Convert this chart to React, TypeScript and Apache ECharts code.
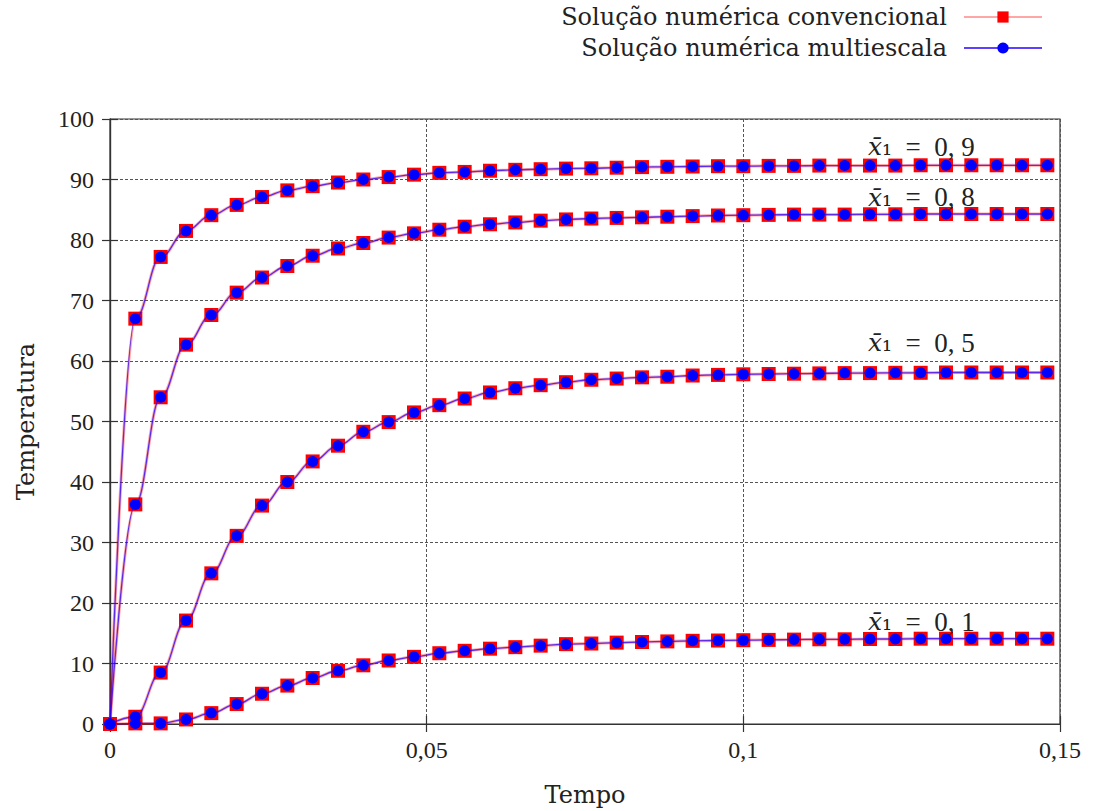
import React, { useEffect, useRef } from "react";
import * as echarts from "echarts";

// Instantes de tempo em que as soluções foram amostradas
const tempo = [
  0, 0.004, 0.008, 0.012, 0.016, 0.02, 0.024, 0.028, 0.032, 0.036,
  0.04, 0.044, 0.048, 0.052, 0.056, 0.06, 0.064, 0.068, 0.072, 0.076,
  0.08, 0.084, 0.088, 0.092, 0.096, 0.1, 0.104, 0.108, 0.112, 0.116,
  0.12, 0.124, 0.128, 0.132, 0.136, 0.14, 0.144, 0.148,
];

// Temperatura em cada posição x̄1 (as duas soluções coincidem nesta escala)
const tempX09 = [
  0, 67.0, 77.2, 81.5, 84.1, 85.8, 87.1, 88.2, 88.9, 89.5,
  90.0, 90.4, 90.8, 91.1, 91.25, 91.45, 91.6, 91.7, 91.8, 91.85,
  91.95, 92.05, 92.1, 92.15, 92.2, 92.2, 92.25, 92.25, 92.3, 92.3,
  92.3, 92.3, 92.35, 92.35, 92.35, 92.35, 92.35, 92.35,
];
const tempX08 = [
  0, 36.3, 54.0, 62.7, 67.6, 71.3, 73.8, 75.7, 77.4, 78.6,
  79.5, 80.4, 81.1, 81.7, 82.2, 82.6, 82.9, 83.2, 83.4, 83.55,
  83.65, 83.75, 83.85, 83.95, 84.05, 84.1, 84.15, 84.2, 84.2, 84.2,
  84.25, 84.25, 84.3, 84.3, 84.3, 84.3, 84.3, 84.3,
];
const tempX05 = [
  0, 1.2, 8.5, 17.1, 24.9, 31.1, 36.1, 40.0, 43.4, 46.0,
  48.3, 49.9, 51.5, 52.7, 53.8, 54.8, 55.5, 56.0, 56.5, 56.9,
  57.1, 57.3, 57.4, 57.6, 57.7, 57.8, 57.85, 57.9, 57.95, 58.0,
  58.0, 58.05, 58.05, 58.1, 58.1, 58.1, 58.1, 58.1,
];
const tempX01 = [
  0, 0.1, 0.1, 0.75, 1.8, 3.3, 5.0, 6.35, 7.6, 8.8,
  9.7, 10.5, 11.1, 11.7, 12.1, 12.45, 12.7, 12.95, 13.2, 13.3,
  13.45, 13.55, 13.65, 13.75, 13.8, 13.85, 13.9, 13.95, 14.0, 14.0,
  14.05, 14.05, 14.1, 14.1, 14.1, 14.1, 14.1, 14.1,
];

const curvas = [tempX09, tempX08, tempX05, tempX01];
const rotulosCurvas = ["0, 9", "0, 8", "0, 5", "0, 1"];
const ancoraRotuloX = 0.1196;
const ancoraRotuloY = [95.4, 87.1, 63.0, 16.9];

const nomeConvencional = "Solução numérica convencional";
const nomeMultiescala = "Solução numérica multiescala";

const fonteTexto = "'DejaVu Serif', serif";
const fonteNumeros = "'Liberation Serif', serif";

const pontos = (valores: number[]) => tempo.map((t, i) => [t, valores[i]]);

const formatarTempo = (v: number) => {
  if (v === 0) return "0";
  return String(Number(v.toFixed(3))).replace(".", ",");
};

export default function App() {
  const ref = useRef<HTMLDivElement>(null);

  useEffect(() => {
    if (!ref.current) return;
    const chart = echarts.init(ref.current, null, { renderer: "svg" });

    const eixoComum = {
      axisLine: { show: true, lineStyle: { color: "#333", width: 1.2 } },
      axisTick: { show: true, inside: true, length: 8, lineStyle: { color: "#333", width: 1.2 } },
    };

    const seriesConv = curvas.map((c) => ({
      name: nomeConvencional,
      type: "line",
      data: pontos(c),
      smooth: 0.4,
      smoothMonotone: "x",
      symbol: "rect",
      symbolSize: 14,
      itemStyle: { color: "#ff0000" },
      lineStyle: { color: "rgba(255,0,0,0.35)", width: 3 },
      z: 2,
    }));

    const seriesMulti = curvas.map((c, k) => ({
      name: nomeMultiescala,
      type: "line",
      data: pontos(c),
      smooth: 0.4,
      smoothMonotone: "x",
      symbol: "circle",
      symbolSize: 11,
      itemStyle: { color: "#0000ff" },
      lineStyle: { color: "rgba(40,0,255,0.75)", width: 1.3 },
      z: 3,
      markPoint: {
        symbol: "rect",
        symbolSize: 1,
        itemStyle: { color: "rgba(0,0,0,0)" },
        data: [
          {
            coord: [ancoraRotuloX, ancoraRotuloY[k]],
            label: {
              show: true,
              position: "right",
              distance: 0,
              formatter: `{v|x\u0304}{s|\u2081}{t|\u2002=\u2002${rotulosCurvas[k]}}`,
              rich: {
                v: { fontFamily: fonteTexto, fontStyle: "italic", fontSize: 25, color: "#222" },
                s: { fontFamily: fonteTexto, fontSize: 25, color: "#222" },
                t: { fontFamily: fonteNumeros, fontSize: 27, color: "#222" },
              },
            },
          },
        ],
      },
    }));

    chart.setOption({
      animation: false,
      backgroundColor: "#ffffff",
      grid: {
        left: 110,
        right: 36,
        top: 119,
        bottom: 87,
        outerBoundsMode: "none",
        show: true,
        borderColor: "#333",
        borderWidth: 1.2,
        backgroundColor: "transparent",
      },
      legend: {
        orient: "vertical",
        right: 53,
        top: 5,
        padding: 0,
        align: "right",
        itemWidth: 78,
        itemHeight: 14,
        itemGap: 7,
        data: [nomeConvencional, nomeMultiescala],
        textStyle: {
          fontFamily: fonteTexto,
          fontSize: 24,
          color: "#222",
          padding: [0, 12, 0, 0],
        },
      },
      xAxis: [
        {
          type: "value",
          min: 0,
          max: 0.15,
          interval: 0.05,
          position: "bottom",
          ...eixoComum,
          axisLabel: {
            formatter: formatarTempo,
            fontFamily: fonteNumeros,
            fontSize: 24,
            color: "#222",
            margin: 14,
          },
          splitLine: { show: true, lineStyle: { color: "#555", type: [3, 2], width: 1 } },
          name: "Tempo",
          nameLocation: "middle",
          nameGap: 59,
          nameTextStyle: { fontFamily: fonteTexto, fontSize: 24, color: "#222" },
        },
        {
          type: "value",
          min: 0,
          max: 0.15,
          interval: 0.05,
          position: "top",
          ...eixoComum,
          axisLabel: { show: false },
          splitLine: { show: false },
        },
      ],
      yAxis: [
        {
          type: "value",
          min: 0,
          max: 100,
          interval: 10,
          position: "left",
          ...eixoComum,
          axisLabel: {
            fontFamily: fonteNumeros,
            fontSize: 24,
            color: "#222",
            margin: 16,
          },
          splitLine: { show: true, lineStyle: { color: "#555", type: [3, 2], width: 1 } },
          name: "Temperatura",
          nameLocation: "middle",
          nameGap: 72,
          nameTextStyle: { fontFamily: fonteTexto, fontSize: 24, color: "#222" },
        },
        {
          type: "value",
          min: 0,
          max: 100,
          interval: 10,
          position: "right",
          ...eixoComum,
          axisLabel: { show: false },
          splitLine: { show: false },
        },
      ],
      series: [...seriesConv, ...seriesMulti],
    });

    return () => chart.dispose();
  }, []);

  return (
    <div
      ref={ref}
      style={{ position: "absolute", left: 0, top: 0, width: 1096, height: 811, background: "#fff" }}
    />
  );
}
